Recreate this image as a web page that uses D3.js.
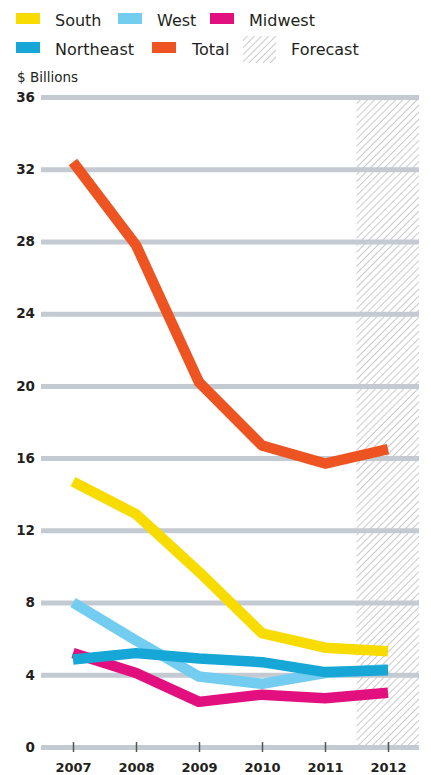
<!DOCTYPE html>
<html>
<head>
<meta charset="utf-8">
<script src="https://cdn.jsdelivr.net/npm/d3@7"></script>
<style>
  body { margin: 0; background: #fff; }
  .chart text { font-family: "DejaVu Sans", sans-serif; fill: #231f20; }
</style>
</head>
<body>
<div class="chart"></div>
<script>
const years = [2007, 2008, 2009, 2010, 2011, 2012];
const yTicks = [0, 4, 8, 12, 16, 20, 24, 28, 32, 36];
const south = [14.7, 12.9, 9.7, 6.3, 5.5, 5.3];
const west = [8.0, 5.9, 3.9, 3.5, 4.1, 4.3];
const midwest = [5.2, 4.1, 2.5, 2.9, 2.7, 3.0];
const northeast = [4.85, 5.2, 4.9, 4.7, 4.15, 4.25];
const total = [32.4, 27.8, 20.2, 16.7, 15.7, 16.5];
const forecastYear = 2012;

const series = [
  {name: "West", values: west, color: "#72cdf0"},
  {name: "Midwest", values: midwest, color: "#e2107e"},
  {name: "Northeast", values: northeast, color: "#17a7d6"},
  {name: "South", values: south, color: "#f8dc00"},
  {name: "Total", values: total, color: "#ee5322"}
];

const width = 431, height = 775;
const svg = d3.select('.chart').append('svg')
  .attr('width', width)
  .attr('height', height);

const defs = svg.append('defs');
const pat = defs.append('pattern')
  .attr('id', 'hatch')
  .attr('patternUnits', 'userSpaceOnUse')
  .attr('width', 5).attr('height', 5)
  .attr('patternTransform', 'rotate(45)');
pat.append('line')
  .attr('x1', 0).attr('y1', 0).attr('x2', 0).attr('y2', 5)
  .attr('stroke', '#bdbdbd').attr('stroke-width', 1.6);

const xScale = d3.scaleLinear().domain([2007, 2012]).range([73, 388]);
const yScale = d3.scaleLinear().domain([0, 36]).range([747, 97]);
const gridLeft = 41, gridRight = 419;

// forecast band
const bandLeft = (xScale(forecastYear - 1) + xScale(forecastYear)) / 2;
svg.append('rect')
  .attr('x', bandLeft)
  .attr('y', yScale(36) + 2)
  .attr('width', gridRight - bandLeft)
  .attr('height', yScale(0) - yScale(36) - 2)
  .attr('fill', 'url(#hatch)');

// y axis with gridlines
const yAxis = d3.axisLeft(yScale)
  .tickValues(yTicks)
  .tickSize(-(gridRight - gridLeft))
  .tickPadding(6);

svg.append('g')
  .attr('class', 'axis y-axis')
  .attr('transform', `translate(${gridLeft},0)`)
  .call(yAxis)
  .call(g => g.select('.domain').remove())
  .call(g => g.selectAll('.tick line')
    .attr('stroke', '#c3cad1').attr('stroke-width', 5))
  .call(g => g.selectAll('.tick text')
    .attr('font-size', 13.5).attr('font-weight', 'bold'));

// x axis ticks
const xAxis = d3.axisBottom(xScale)
  .tickValues(years)
  .tickFormat(d3.format('d'))
  .tickSize(5)
  .tickPadding(11);

svg.append('g')
  .attr('class', 'axis x-axis')
  .attr('transform', `translate(0,${yScale(0)})`)
  .call(xAxis)
  .call(g => g.select('.domain').remove())
  .call(g => g.selectAll('.tick line')
    .attr('y1', -5).attr('stroke', '#555').attr('stroke-width', 1.5))
  .call(g => g.selectAll('.tick text')
    .attr('font-size', 13).attr('font-weight', 'bold'));

svg.append('text')
  .attr('x', 17).attr('y', 82)
  .attr('font-size', 13.5)
  .text('$ Billions');

// lines
const line = d3.line()
  .x((d, i) => xScale(years[i]))
  .y(d => yScale(d));

svg.selectAll('.series')
  .data(series)
  .enter()
  .append('path')
  .attr('class', 'series')
  .attr('d', d => line(d.values))
  .attr('fill', 'none')
  .attr('stroke', d => d.color)
  .attr('stroke-width', 10.5)
  .attr('stroke-linejoin', 'round');

// legend
const legend = [
  {name: "South", color: "#f8dc00", x: 16, row: 0, tx: 55},
  {name: "West", color: "#72cdf0", x: 118, row: 0, tx: 157},
  {name: "Midwest", color: "#e2107e", x: 210, row: 0, tx: 249},
  {name: "Northeast", color: "#17a7d6", x: 16, row: 1, tx: 55},
  {name: "Total", color: "#ee5322", x: 152, row: 1, tx: 192}
];

svg.selectAll('.swatch')
  .data(legend)
  .enter()
  .append('rect')
  .attr('class', 'swatch')
  .attr('x', d => d.x)
  .attr('y', d => 13 + d.row * 29)
  .attr('width', 24)
  .attr('height', 11)
  .attr('fill', d => d.color);

svg.append('rect')
  .attr('x', 243).attr('y', 36)
  .attr('width', 33).attr('height', 27)
  .attr('fill', 'url(#hatch)');

svg.selectAll('.legend-label')
  .data(legend.concat([{name: "Forecast", row: 1, tx: 291}]))
  .enter()
  .append('text')
  .attr('class', 'legend-label')
  .attr('x', d => d.tx)
  .attr('y', d => 25.5 + d.row * 29)
  .attr('font-size', 16)
  .text(d => d.name);
</script>
</body>
</html>
